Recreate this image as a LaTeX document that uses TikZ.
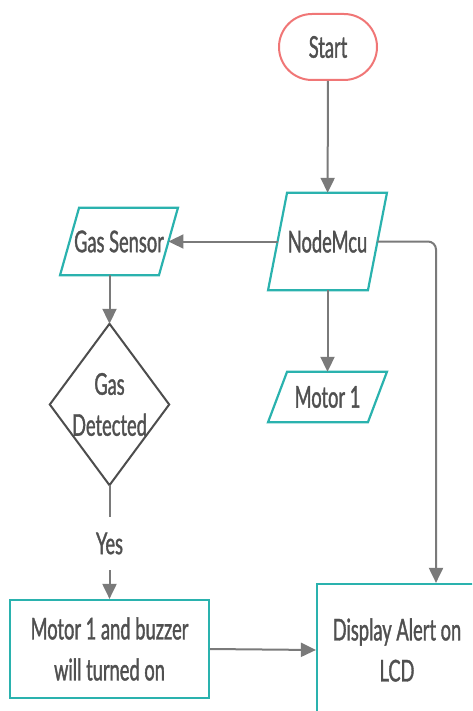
\documentclass[tikz,border=0pt]{standalone}
\usepackage{fontspec}
\setmainfont{Lato}[FakeStretch=0.61,FakeBold=1.2]
\usetikzlibrary{arrows.meta}
\definecolor{tealc}{RGB}{42,178,174}
\definecolor{redc}{RGB}{240,118,118}
\definecolor{linec}{RGB}{122,122,122}
\definecolor{diac}{RGB}{77,77,77}
\definecolor{txtc}{RGB}{80,80,80}
\begin{document}
\begin{tikzpicture}[x=1pt,y=-1pt,
  every node/.style={font=\fontsize{30}{41}\selectfont, text=txtc, align=center, inner sep=0pt},
  startbox/.style={draw=redc, line width=2pt, rounded corners=33pt, fill=white, minimum width=98pt, minimum height=66pt},
  ghost/.style={draw=none},
  paraline/.style={draw=tealc, line width=2.2pt, line join=miter},
  procbox/.style={draw=tealc, line width=2.2pt, fill=white},
  dialine/.style={draw=diac, line width=2pt},
  conn/.style={draw=linec, line width=2pt, -{Triangle[length=15pt,width=14pt]}},
  plain/.style={draw=linec, line width=2pt}
]
\useasboundingbox (0,0) rectangle (472,711);
\clip (0,0) rectangle (472,711);

% Start
\node[startbox] (start) at (328,47) {Start};

% NodeMcu parallelogram
\node[ghost, minimum width=99.5pt, minimum height=97pt] (nm) at (327.5,241.5) {NodeMcu};
\draw[paraline] ([xshift=9.5pt]nm.north west) -- ([xshift=9.5pt]nm.north east) -- ([xshift=-9.5pt]nm.south east) -- ([xshift=-9.5pt]nm.south west) -- cycle;

% Gas Sensor parallelogram
\node[ghost, minimum width=98.5pt, minimum height=67pt] (gs) at (119,241.5) {Gas Sensor};
\draw[paraline] ([xshift=9.5pt]gs.north west) -- ([xshift=9.5pt]gs.north east) -- ([xshift=-9.5pt]gs.south east) -- ([xshift=-9.5pt]gs.south west) -- cycle;

% Motor 1 parallelogram
\node[ghost, minimum width=99.5pt, minimum height=50pt] (m1) at (327.5,397) {Motor 1};
\draw[paraline] ([xshift=9.5pt]m1.north west) -- ([xshift=9.5pt]m1.north east) -- ([xshift=-9.5pt]m1.south east) -- ([xshift=-9.5pt]m1.south west) -- cycle;

% Diamond
\node[ghost, minimum width=119pt, minimum height=161pt] (dia) at (109.5,404.5) {Gas\\Detected};
\draw[dialine] (dia.north) -- (dia.east) -- (dia.south) -- (dia.west) -- cycle;

% Yes label
\node[ghost, minimum height=53pt] (yes) at (109.5,543.5) {Yes};

% Motor 1 and buzzer box
\node[procbox, minimum width=199pt, minimum height=98pt] (mb) at (109.5,649) {Motor 1 and buzzer\\will turned on};

% Display box
\node[procbox, minimum width=160pt, minimum height=132pt] (disp) at (397,650) {Display Alert on\\LCD};

% Connectors
\draw[conn] (start) -- (nm);
\draw[conn] (nm.west) -- (gs.east);
\draw[conn, rounded corners=8pt] (nm.east) -| ([xshift=39pt]disp.north);
\draw[conn] (nm) -- (m1);
\draw[conn] (dia.north |- gs.south) -- (dia.north);
\draw[plain] (dia.south) -- (yes.north);
\draw[conn] (yes.south) -- (mb.north);
\draw[conn] (mb.east) -- (disp.west);
\end{tikzpicture}
\end{document}
